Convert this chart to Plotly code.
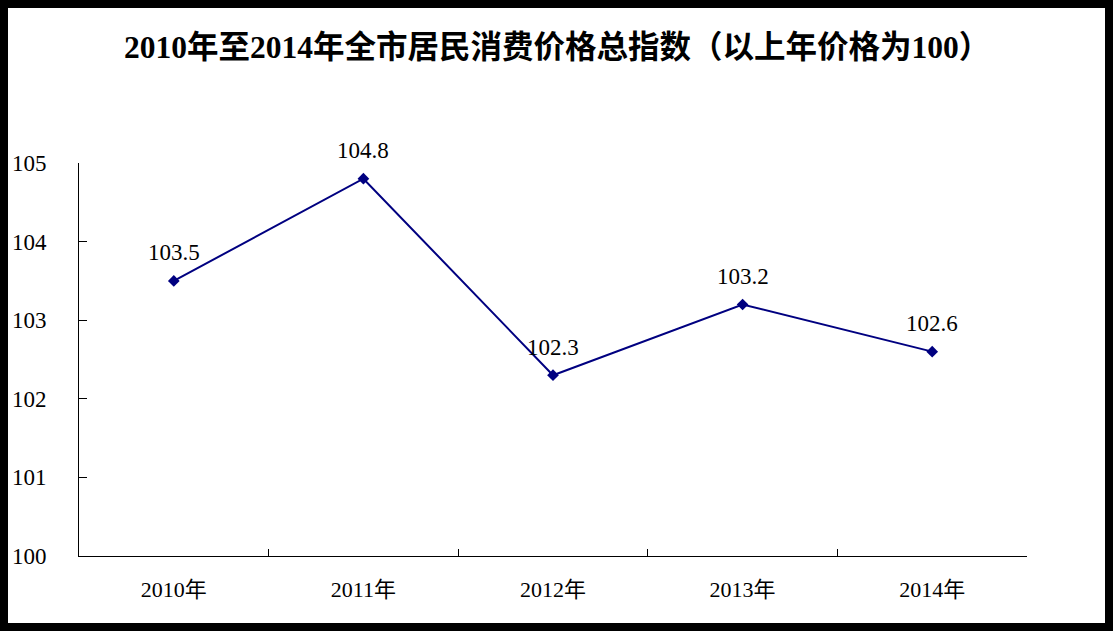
import plotly.graph_objects as go

years = ["2010年", "2011年", "2012年", "2013年", "2014年"]
cpi = [103.5, 104.8, 102.3, 103.2, 102.6]
y_ticks = [100, 101, 102, 103, 104, 105]
title_text = "2010年至2014年全市居民消费价格总指数（以上年价格为100）"

W, H = 1113, 631
ML, MR, MT, MB = 79, 86, 163, 75
PW, PH = W - ML - MR, H - MT - MB

FONT = "Liberation Serif, 'Noto Sans CJK SC', serif"

fig = go.Figure()
fig.add_trace(go.Scatter(
    x=years, y=cpi,
    mode="lines+markers",
    line=dict(color="#000080", width=2),
    marker=dict(symbol="diamond", size=9, color="#000080"),
    cliponaxis=False,
    showlegend=False,
))

annotations = [
    dict(x=yr, y=v, xref="x", yref="y", text=f"{v:.1f}", showarrow=False,
         xanchor="center", yanchor="middle", yshift=28,
         font=dict(family=FONT, size=23, color="black"))
    for yr, v in zip(years, cpi)
]

fig.update_layout(
    width=W, height=H,
    margin=dict(l=ML, r=MR, t=MT, b=MB),
    paper_bgcolor="white", plot_bgcolor="white",
    title=dict(text="<b>" + title_text + "</b>", x=0.5005, xanchor="center",
               y=1 - 47 / H, yanchor="middle",
               font=dict(family=FONT, size=31.5, color="black")),
    xaxis=dict(type="category", range=[-0.5, 4.5], tickson="boundaries",
               ticks="inside", ticklen=7, tickcolor="black",
               showline=True, linecolor="black", linewidth=1,
               showgrid=False, zeroline=False,
               tickfont=dict(family=FONT, size=22, color="black"),
               ticklabelstandoff=14, fixedrange=True),
    yaxis=dict(range=[100, 105], tickvals=y_ticks,
               ticks="inside", ticklen=8, tickcolor="black",
               showline=True, linecolor="black", linewidth=1,
               showgrid=False, zeroline=False,
               tickfont=dict(family=FONT, size=23, color="black"),
               ticklabelstandoff=27, fixedrange=True),
    annotations=annotations,
    shapes=[dict(type="rect", xref="paper", yref="paper",
                 x0=-ML / PW, x1=(W - ML) / PW,
                 y0=-MB / PH, y1=(H - MB) / PH,
                 line=dict(color="black", width=16), fillcolor="rgba(0,0,0,0)")],
)

fig.write_html("out.html")
